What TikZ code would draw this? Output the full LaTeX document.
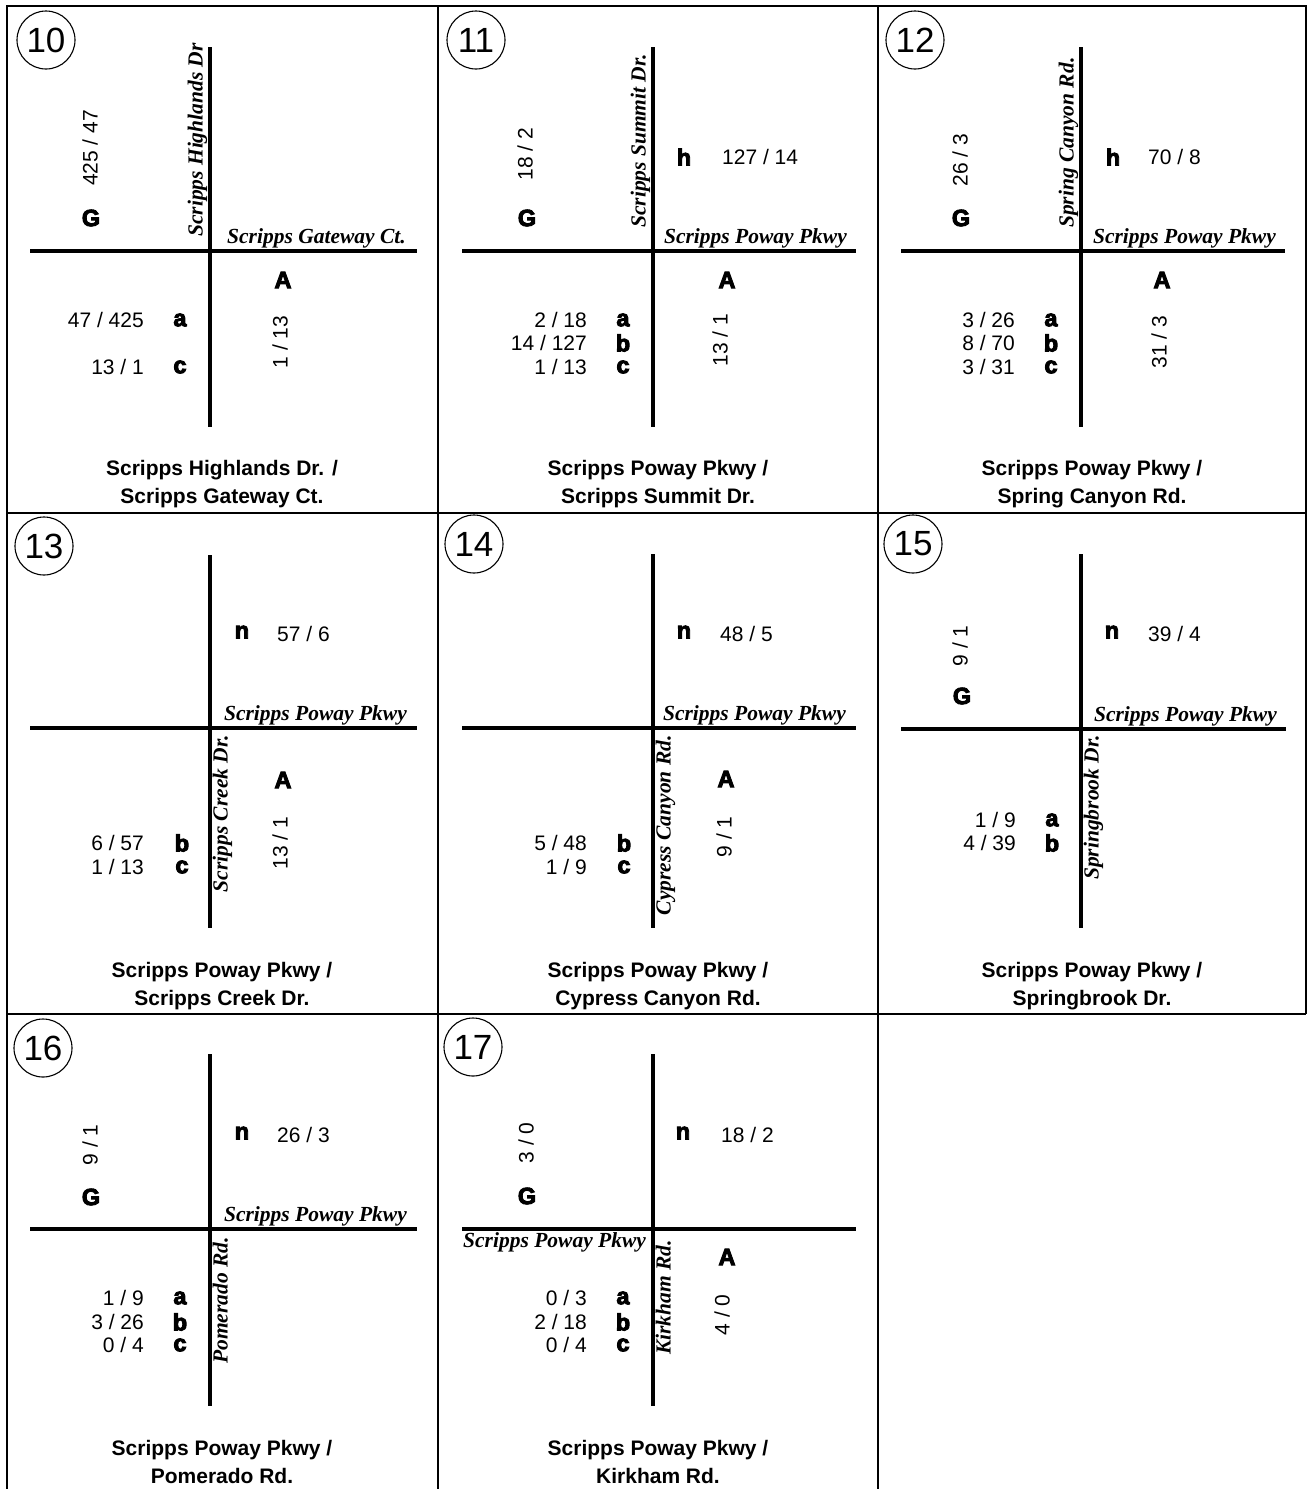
\documentclass[tikz,border=0pt]{standalone}
\usepackage{fontspec}
\setmainfont{Liberation Sans}
\newfontfamily\glyphfont[FakeBold=4]{Liberation Sans Bold}
\newfontfamily\streetfont{Liberation Serif}
\usetikzlibrary{positioning}

\begin{document}
\begin{tikzpicture}[
  x=1pt, y=-1pt,
  frame/.style={draw=black, line width=2.5pt},
  road/.style={draw=black, line width=4.5pt},
  idmark/.style={draw=black, circle, line width=1.1pt, minimum size=58pt, inner sep=0pt,
    font=\fontsize{35}{40}\selectfont},
  num/.style={inner sep=0pt, font=\fontsize{21}{25}\selectfont},
  vnum/.style={num, rotate=90},
  glyph/.style={inner sep=0pt, font=\glyphfont\fontsize{23.5}{27}\selectfont},
  street/.style={inner sep=0pt, font=\streetfont\bfseries\itshape\fontsize{21.5}{25}\selectfont},
  vstreet/.style={street, rotate=90},
  caption/.style={inner sep=0pt, align=center, font=\bfseries\fontsize{21}{28.5}\selectfont}
]
  \useasboundingbox (0,0) rectangle (1307,1489);

  % --- Grille ---
  \draw[frame] (7,1489) -- (7,6) -- (1306,6) -- (1306,1014);
  \draw[frame] (438,6) -- (438,1489);
  \draw[frame] (878,6) -- (878,1489);
  \draw[frame] (7,513) -- (1306,513);
  \draw[frame] (7,1014) -- (1306,1014);

  % --- 10 : Scripps Highlands Dr. / Scripps Gateway Ct. ---
  \node[idmark] (id10) at (46,40) {10};
  \coordinate (t10) at (210,47);  \coordinate (b10) at (210,427);
  \coordinate (w10) at (30,251);  \coordinate (e10) at (417,251);
  \draw[road] (t10) -- (b10);
  \draw[road] (w10) -- (e10);
  \node[vstreet, anchor=south west] (ns10) at (207.5,237) {Scripps Highlands Dr};
  \node[street, above left=2.3pt and 11pt of e10, anchor=south east] (ew10) {Scripps Gateway Ct.};
  \node[vnum] (vG10) at (90,148) {425 / 47};
  \node[glyph] (G10) at (91,218) {G};
  \node[glyph] (A10) at (283,280) {A};
  \node[vnum] (vA10) at (280,342) {1 / 13};
  \node[glyph] (a10) at (180,320) {a};
  \node[num, anchor=east] (na10) at (144,320) {47 / 425};
  \node[glyph] (c10) at (180,367) {c};
  \node[num, anchor=east] (nc10) at (144,367) {13 / 1};
  \node[caption] (cap10) at (222,484) {Scripps Highlands Dr. /\\Scripps Gateway Ct.};

  % --- 11 : Scripps Poway Pkwy / Scripps Summit Dr. ---
  \node[idmark] (id11) at (476,40) {11};
  \coordinate (t11) at (653,47);  \coordinate (b11) at (653,427);
  \coordinate (w11) at (462,251); \coordinate (e11) at (856,251);
  \draw[road] (t11) -- (b11);
  \draw[road] (w11) -- (e11);
  \node[vstreet, anchor=south west] (ns11) at (650.5,228) {Scripps Summit Dr.};
  \node[street, above left=2.3pt and 9pt of e11, anchor=south east] (ew11) {Scripps Poway Pkwy};
  \node[vnum] (vG11) at (525,154) {18 / 2};
  \node[glyph] (G11) at (527,218) {G};
  \node[glyph] (h11) at (684,157) {h};
  \node[num, anchor=west] (nh11) at (722,157) {127 / 14};
  \node[glyph] (A11) at (727,280) {A};
  \node[vnum] (vA11) at (720,340) {13 / 1};
  \node[glyph] (a11) at (623,320) {a};
  \node[num, anchor=east] (na11) at (587,320) {2 / 18};
  \node[glyph] (b11) at (623,343) {b};
  \node[num, anchor=east] (nb11) at (587,343) {14 / 127};
  \node[glyph] (c11) at (623,367) {c};
  \node[num, anchor=east] (nc11) at (587,367) {1 / 13};
  \node[caption] (cap11) at (658,484) {Scripps Poway Pkwy /\\Scripps Summit Dr.};

  % --- 12 : Scripps Poway Pkwy / Spring Canyon Rd. ---
  \node[idmark] (id12) at (915,40) {12};
  \coordinate (t12) at (1081,47);  \coordinate (b12) at (1081,427);
  \coordinate (w12) at (901,251);  \coordinate (e12) at (1285,251);
  \draw[road] (t12) -- (b12);
  \draw[road] (w12) -- (e12);
  \node[vstreet, anchor=south west] (ns12) at (1078.5,228) {Spring Canyon Rd.};
  \node[street, above left=2.3pt and 9pt of e12, anchor=south east] (ew12) {Scripps Poway Pkwy};
  \node[vnum] (vG12) at (960,160) {26 / 3};
  \node[glyph] (G12) at (961,218) {G};
  \node[glyph] (h12) at (1113,157) {h};
  \node[num, anchor=west] (nh12) at (1148,157) {70 / 8};
  \node[glyph] (A12) at (1162,280) {A};
  \node[vnum] (vA12) at (1159,342) {31 / 3};
  \node[glyph] (a12) at (1051,320) {a};
  \node[num, anchor=east] (na12) at (1015,320) {3 / 26};
  \node[glyph] (b12) at (1051,343) {b};
  \node[num, anchor=east] (nb12) at (1015,343) {8 / 70};
  \node[glyph] (c12) at (1051,367) {c};
  \node[num, anchor=east] (nc12) at (1015,367) {3 / 31};
  \node[caption] (cap12) at (1092,484) {Scripps Poway Pkwy /\\Spring Canyon Rd.};

  % --- 13 : Scripps Poway Pkwy / Scripps Creek Dr. ---
  \node[idmark] (id13) at (44,546) {13};
  \coordinate (t13) at (210,555);  \coordinate (b13) at (210,928);
  \coordinate (w13) at (30,728);   \coordinate (e13) at (417,728);
  \draw[road] (t13) -- (b13);
  \draw[road] (w13) -- (e13);
  \node[vstreet, anchor=north east] (ns13) at (212.5,735) {Scripps Creek Dr.};
  \node[street, above left=2.3pt and 10pt of e13, anchor=south east] (ew13) {Scripps Poway Pkwy};
  \node[glyph] (n13) at (242,632) {n};
  \node[num, anchor=west] (nn13) at (277,634) {57 / 6};
  \node[glyph] (A13) at (283,780) {A};
  \node[vnum] (vA13) at (280,843) {13 / 1};
  \node[glyph] (b13g) at (182,843) {b};
  \node[num, anchor=east] (nb13) at (144,843) {6 / 57};
  \node[glyph] (c13) at (182,867) {c};
  \node[num, anchor=east] (nc13) at (144,867) {1 / 13};
  \node[caption] (cap13) at (222,986) {Scripps Poway Pkwy /\\Scripps Creek Dr.};

  % --- 14 : Scripps Poway Pkwy / Cypress Canyon Rd. ---
  \node[idmark] (id14) at (474,544) {14};
  \coordinate (t14) at (653,554);  \coordinate (b14) at (653,928);
  \coordinate (w14) at (462,728);  \coordinate (e14) at (856,728);
  \draw[road] (t14) -- (b14);
  \draw[road] (w14) -- (e14);
  \node[vstreet, anchor=north east] (ns14) at (655.5,735) {Cypress Canyon Rd.};
  \node[street, above left=2.3pt and 10pt of e14, anchor=south east] (ew14) {Scripps Poway Pkwy};
  \node[glyph] (n14) at (684,632) {n};
  \node[num, anchor=west] (nn14) at (720,634) {48 / 5};
  \node[glyph] (A14) at (726,779) {A};
  \node[vnum] (vA14) at (724,837) {9 / 1};
  \node[glyph] (b14g) at (624,843) {b};
  \node[num, anchor=east] (nb14) at (587,843) {5 / 48};
  \node[glyph] (c14) at (624,867) {c};
  \node[num, anchor=east] (nc14) at (587,867) {1 / 9};
  \node[caption] (cap14) at (658,986) {Scripps Poway Pkwy /\\Cypress Canyon Rd.};

  % --- 15 : Scripps Poway Pkwy / Springbrook Dr. ---
  \node[idmark] (id15) at (913,544) {15};
  \coordinate (t15) at (1081,554);  \coordinate (b15) at (1081,928);
  \coordinate (w15) at (901,729);   \coordinate (e15) at (1286,729);
  \draw[road] (t15) -- (b15);
  \draw[road] (w15) -- (e15);
  \node[vstreet, anchor=north east] (ns15) at (1083.5,735) {Springbrook Dr.};
  \node[street, above left=2.3pt and 9pt of e15, anchor=south east] (ew15) {Scripps Poway Pkwy};
  \node[vnum] (vG15) at (960,646) {9 / 1};
  \node[glyph] (G15) at (962,696) {G};
  \node[glyph] (n15) at (1112,632) {n};
  \node[num, anchor=west] (nn15) at (1148,634) {39 / 4};
  \node[glyph] (a15) at (1052,820) {a};
  \node[num, anchor=east] (na15) at (1016,820) {1 / 9};
  \node[glyph] (b15g) at (1052,843) {b};
  \node[num, anchor=east] (nb15) at (1016,843) {4 / 39};
  \node[caption] (cap15) at (1092,986) {Scripps Poway Pkwy /\\Springbrook Dr.};

  % --- 16 : Scripps Poway Pkwy / Pomerado Rd. ---
  \node[idmark] (id16) at (43,1048) {16};
  \coordinate (t16) at (210,1054);  \coordinate (b16) at (210,1406);
  \coordinate (w16) at (30,1229);   \coordinate (e16) at (417,1229);
  \draw[road] (t16) -- (b16);
  \draw[road] (w16) -- (e16);
  \node[vstreet, anchor=north east] (ns16) at (212.5,1237) {Pomerado Rd.};
  \node[street, above left=2.3pt and 10pt of e16, anchor=south east] (ew16) {Scripps Poway Pkwy};
  \node[vnum] (vG16) at (90,1145) {9 / 1};
  \node[glyph] (G16) at (91,1197) {G};
  \node[glyph] (n16) at (242,1133) {n};
  \node[num, anchor=west] (nn16) at (277,1135) {26 / 3};
  \node[glyph] (a16) at (180,1298) {a};
  \node[num, anchor=east] (na16) at (144,1298) {1 / 9};
  \node[glyph] (b16g) at (180,1322) {b};
  \node[num, anchor=east] (nb16) at (144,1322) {3 / 26};
  \node[glyph] (c16) at (180,1345) {c};
  \node[num, anchor=east] (nc16) at (144,1345) {0 / 4};
  \node[caption] (cap16) at (222,1462) {Scripps Poway Pkwy /\\Pomerado Rd.};

  % --- 17 : Scripps Poway Pkwy / Kirkham Rd. ---
  \node[idmark] (id17) at (473,1047) {17};
  \coordinate (t17) at (653,1054);  \coordinate (b17) at (653,1406);
  \coordinate (w17) at (462,1229);  \coordinate (e17) at (856,1229);
  \draw[road] (t17) -- (b17);
  \draw[road] (w17) -- (e17);
  \node[vstreet, anchor=north east] (ns17) at (655.5,1240) {Kirkham Rd.};
  \node[street, below right=3pt and 1pt of w17, anchor=north west] (ew17) {Scripps Poway Pkwy};
  \node[vnum] (vG17) at (526,1143) {3 / 0};
  \node[glyph] (G17) at (527,1196) {G};
  \node[glyph] (n17) at (683,1133) {n};
  \node[num, anchor=west] (nn17) at (721,1135) {18 / 2};
  \node[glyph] (A17) at (727,1257) {A};
  \node[vnum] (vA17) at (722,1315) {4 / 0};
  \node[glyph] (a17) at (623,1298) {a};
  \node[num, anchor=east] (na17) at (587,1298) {0 / 3};
  \node[glyph] (b17g) at (623,1322) {b};
  \node[num, anchor=east] (nb17) at (587,1322) {2 / 18};
  \node[glyph] (c17) at (623,1345) {c};
  \node[num, anchor=east] (nc17) at (587,1345) {0 / 4};
  \node[caption] (cap17) at (658,1462) {Scripps Poway Pkwy /\\Kirkham Rd.};

\end{tikzpicture}
\end{document}
